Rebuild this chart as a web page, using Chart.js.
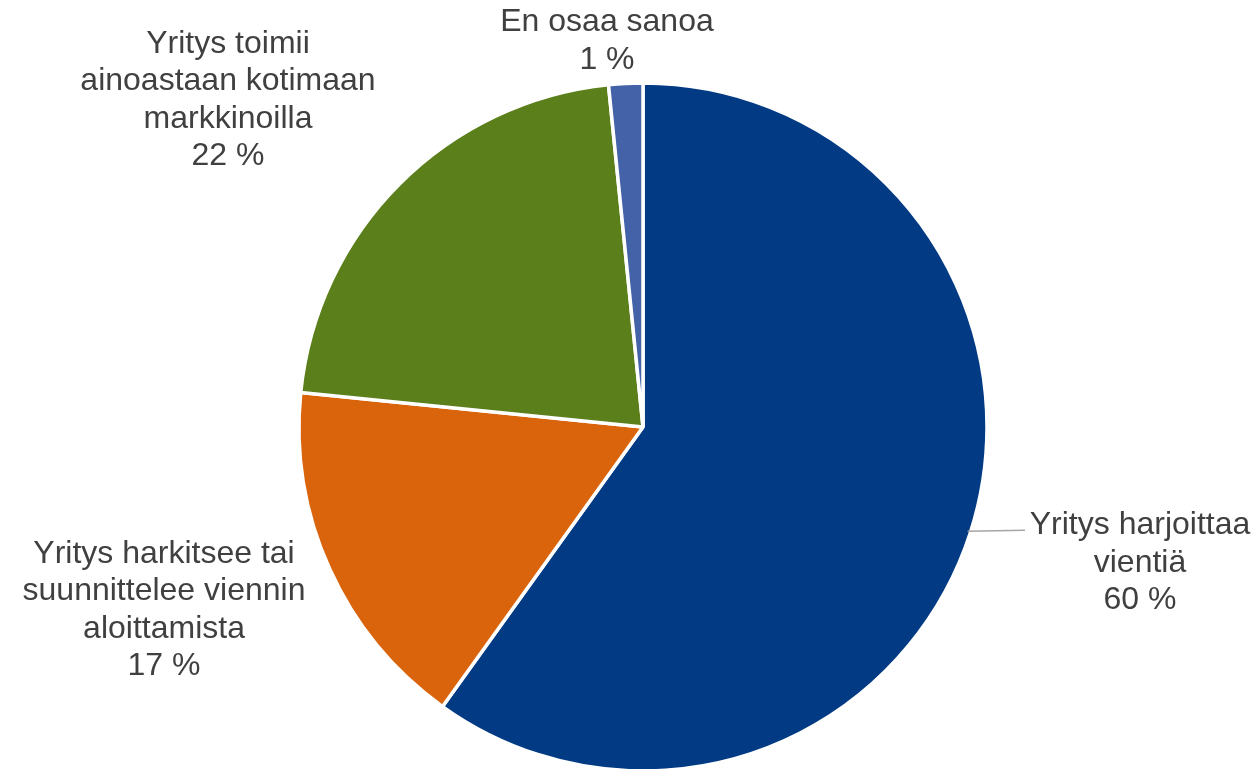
<!DOCTYPE html>
<html>
<head>
<meta charset="utf-8">
<script src="https://cdn.jsdelivr.net/npm/chart.js@4/dist/chart.umd.min.js"></script>
<style>
  html, body { margin: 0; padding: 0; background: #fff; }
  #wrap { width: 1258px; height: 769px; position: relative; }
</style>
</head>
<body>
<div id="wrap"><canvas id="pieChart"></canvas></div>
<script>
// Categories and values
const categories = [
  ['Yritys harjoittaa', 'vientiä'],
  ['Yritys harkitsee tai', 'suunnittelee viennin', 'aloittamista'],
  ['Yritys toimii', 'ainoastaan kotimaan', 'markkinoilla'],
  ['En osaa sanoa']
];
const shares = [59.9, 16.7, 21.8, 1.6];
const pctLabels = ['60 %', '17 %', '22 %', '1 %'];
const sliceColors = ['#023A84', '#DA640B', '#5B7F1A', '#4462A7'];

// label anchor: offset of label block centre from the pie centre
const labelOffsets = [
  { dx: 497, dy: 136 },
  { dx: -479, dy: 183 },
  { dx: -415, dy: -327 },
  { dx: -36, dy: -386 }
];

const outsideLabels = {
  id: 'outsideLabels',
  afterDraw(chart) {
    const ctx = chart.ctx;
    const meta = chart.getDatasetMeta(0);
    const first = meta.data[0];
    const cx = first.x, cy = first.y;
    const lineH = 37.5;
    ctx.save();

    // leader line for the big slice
    const a0 = meta.data[0];
    const mid = (a0.startAngle + a0.endAngle) / 2;
    ctx.strokeStyle = '#A6A6A6';
    ctx.lineWidth = 1.5;
    ctx.beginPath();
    ctx.moveTo(cx + Math.cos(mid) * (a0.outerRadius - 3), cy + Math.sin(mid) * (a0.outerRadius - 3));
    ctx.lineTo(cx + labelOffsets[0].dx - 115, cy + Math.sin(mid) * (a0.outerRadius - 3) - 1);
    ctx.stroke();

    ctx.font = '32px "Liberation Sans", Arial, sans-serif';
    ctx.fillStyle = '#404040';
    ctx.textAlign = 'center';
    ctx.textBaseline = 'middle';
    categories.forEach((lines, i) => {
      const all = lines.concat([pctLabels[i]]);
      const x = cx + labelOffsets[i].dx;
      const y0 = cy + labelOffsets[i].dy - (all.length - 1) * lineH / 2;
      all.forEach((t, j) => ctx.fillText(t, x, y0 + j * lineH));
    });
    ctx.restore();
  }
};

new Chart(document.getElementById('pieChart'), {
  type: 'pie',
  data: {
    labels: categories.map(c => c.join(' ')),
    datasets: [{
      data: shares,
      backgroundColor: sliceColors,
      borderColor: '#ffffff',
      borderWidth: 3.5,
      radius: 344
    }]
  },
  options: {
    responsive: true,
    maintainAspectRatio: false,
    animation: false,
    layout: { padding: { left: 28, right: 0, top: 85, bottom: 0 } },
    plugins: {
      legend: { display: false },
      tooltip: { enabled: false }
    }
  },
  plugins: [outsideLabels]
});
</script>
</body>
</html>
